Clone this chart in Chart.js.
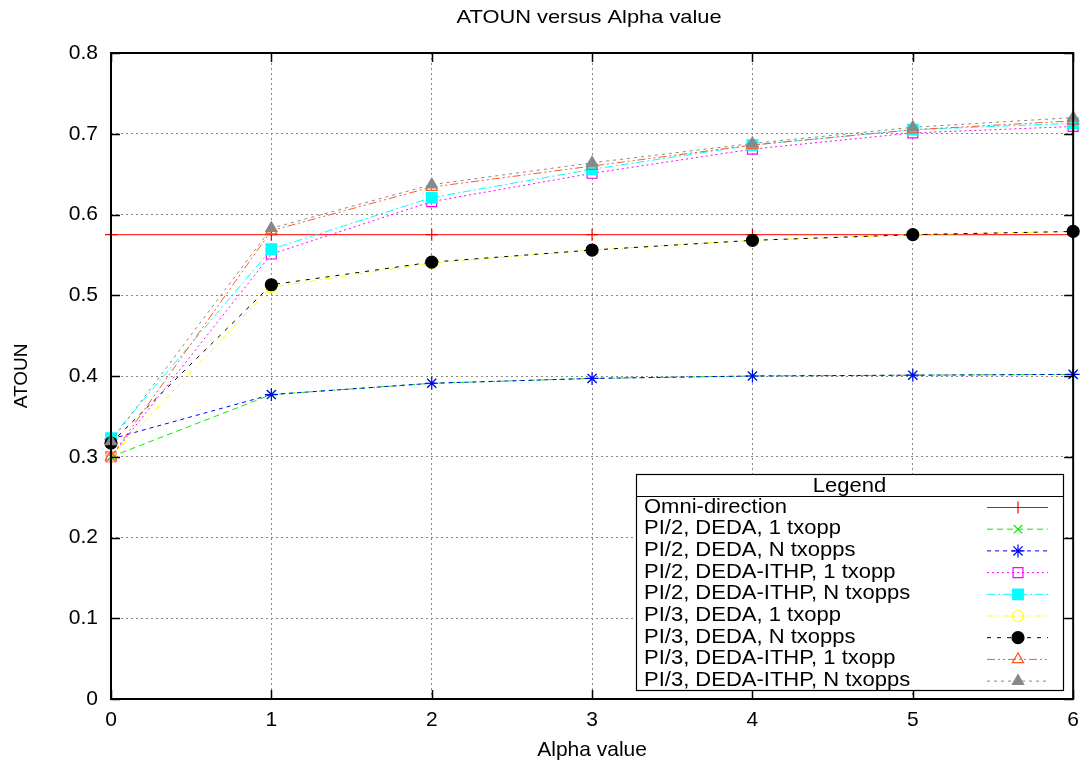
<!DOCTYPE html>
<html>
<head>
<meta charset="utf-8">
<title>ATOUN versus Alpha value</title>
<script src="https://cdn.jsdelivr.net/npm/chart.js@4.4.1/dist/chart.umd.min.js"></script>
<style>
  html, body { margin: 0; padding: 0; background: #fff; }
  #wrap { width: 1088px; height: 769px; }
</style>
</head>
<body>
<div id="wrap"><canvas id="atounChart" width="1088" height="769"></canvas></div>
<script>
// valores de alpha (eje x)
const alpha = [0, 1, 2, 3, 4, 5, 6];

// ATOUN por escenario
const omni      = [0.575, 0.575, 0.575, 0.575, 0.575, 0.575, 0.575];
const pi2Deda1  = [0.300, 0.377, 0.391, 0.397, 0.400, 0.401, 0.402];
const pi2DedaN  = [0.322, 0.377, 0.391, 0.397, 0.400, 0.401, 0.402];
const pi2Ithp1  = [0.300, 0.551, 0.616, 0.651, 0.681, 0.701, 0.709];
const pi2IthpN  = [0.323, 0.557, 0.621, 0.656, 0.686, 0.705, 0.713];
const pi3Deda1  = [0.300, 0.510, 0.540, 0.556, 0.568, 0.575, 0.579];
const pi3DedaN  = [0.317, 0.513, 0.541, 0.556, 0.568, 0.575, 0.579];
const pi3Ithp1  = [0.300, 0.580, 0.634, 0.660, 0.686, 0.705, 0.716];
const pi3IthpN  = [0.319, 0.583, 0.637, 0.664, 0.688, 0.708, 0.720];

const seriesNames = [
    'Omni-direction',
    'PI/2, DEDA, 1 txopp',
    'PI/2, DEDA, N txopps',
    'PI/2, DEDA-ITHP, 1 txopp',
    'PI/2, DEDA-ITHP, N txopps',
    'PI/3, DEDA, 1 txopp',
    'PI/3, DEDA, N txopps',
    'PI/3, DEDA-ITHP, 1 txopp',
    'PI/3, DEDA-ITHP, N txopps'
];
const seriesValues = [omni, pi2Deda1, pi2DedaN, pi2Ithp1, pi2IthpN, pi3Deda1, pi3DedaN, pi3Ithp1, pi3IthpN];

// ticks
const xTicks = [0, 1, 2, 3, 4, 5, 6];
const yTicks = [0, 0.1, 0.2, 0.3, 0.4, 0.5, 0.6, 0.7, 0.8];

// estilo de cada linea: color, trazo, marcador, tamaño, relleno
const styles = [
    { color: '#ff0000', dash: [],                 point: 'cross',    r: 6,   fill: false },
    { color: '#00ee00', dash: [6, 4],             point: 'crossRot', r: 6,   fill: false },
    { color: '#0000ff', dash: [4, 4],             point: 'star',     r: 6.5, fill: false },
    { color: '#ff00ff', dash: [2, 3],             point: 'rect',     r: 7,   fill: false },
    { color: '#00ffff', dash: [8, 3, 2, 3],       point: 'rect',     r: 7.5, fill: true  },
    { color: '#ffff00', dash: [6, 4, 2, 4],       point: 'circle',   r: 5.5, fill: false },
    { color: '#000000', dash: [4, 6],             point: 'circle',   r: 6,   fill: true  },
    { color: '#ff5a1e', dash: [8, 3, 2, 3, 2, 3], point: 'triangle', r: 6.5, fill: false },
    { color: '#888888', dash: [3, 4],             point: 'triangle', r: 6.5, fill: true  }
];

const FONT = "'Liberation Sans', Arial, sans-serif";

function makeDatasets() {
    return seriesValues.map(function (vals, i) {
        const s = styles[i];
        return {
            label: seriesNames[i],
            data: alpha.map((a, k) => ({ x: a, y: vals[k] })),
            borderColor: s.color,
            borderWidth: 1,
            borderDash: s.dash,
            pointStyle: s.point,
            pointRadius: s.r,
            pointHoverRadius: s.r,
            pointBorderColor: s.color,
            pointBorderWidth: 1.2,
            pointBackgroundColor: s.fill ? s.color : 'rgba(0,0,0,0)',
            tension: 0,
            clip: false,
            order: seriesValues.length - i // gnuplot pinta en orden, el ultimo encima
        };
    });
}

// dibuja un marcador de la leyenda en (x, y)
function marker(ctx, s, x, y) {
    const r = s.r;
    ctx.save();
    ctx.setLineDash([]);
    ctx.strokeStyle = s.color;
    ctx.fillStyle = s.color;
    ctx.lineWidth = 1.2;
    ctx.beginPath();
    if (s.point === 'cross' || s.point === 'star') {
        ctx.moveTo(x - r, y); ctx.lineTo(x + r, y);
        ctx.moveTo(x, y - r); ctx.lineTo(x, y + r);
    }
    if (s.point === 'crossRot' || s.point === 'star') {
        const d = r * 0.707;
        ctx.moveTo(x - d, y - d); ctx.lineTo(x + d, y + d);
        ctx.moveTo(x - d, y + d); ctx.lineTo(x + d, y - d);
    }
    if (s.point === 'rect') {
        const d = r * 0.707;
        ctx.rect(x - d, y - d, 2 * d, 2 * d);
    }
    if (s.point === 'circle') {
        ctx.arc(x, y, r, 0, Math.PI * 2);
    }
    if (s.point === 'triangle') {
        ctx.moveTo(x, y - r);
        ctx.lineTo(x + r * 0.87, y + r * 0.5);
        ctx.lineTo(x - r * 0.87, y + r * 0.5);
        ctx.closePath();
    }
    if (s.fill && (s.point === 'rect' || s.point === 'circle' || s.point === 'triangle')) ctx.fill();
    ctx.stroke();
    ctx.restore();
}

// texto algo ensanchado, como en la salida de gnuplot
function wideText(ctx, text, x, y, align, sx) {
    ctx.save();
    ctx.translate(x, y);
    ctx.scale(sx, 1);
    ctx.textAlign = align;
    ctx.fillText(text, 0, 0);
    ctx.restore();
}

// titulo del grafico
const titlePlugin = {
    id: 'gpTitle',
    afterDraw(chart) {
        const ctx = chart.ctx;
        const a = chart.chartArea;
        ctx.save();
        ctx.fillStyle = '#000';
        ctx.font = '19px ' + FONT;
        ctx.textBaseline = 'middle';
        wideText(ctx, 'ATOUN versus Alpha value', (a.left + a.right) / 2 - 3, 18, 'center', 1.15);
        ctx.restore();
    }
};

// leyenda con recuadro opaco, dentro del area
const legendBoxPlugin = {
    id: 'gpLegend',
    afterDatasetsDraw(chart) {
        const ctx = chart.ctx;
        const x0 = 636, y0 = 474, w = 427, h = 216, head = 22, rowH = 21.7;
        ctx.save();
        ctx.fillStyle = '#fff';
        ctx.fillRect(x0, y0, w, h);
        ctx.strokeStyle = '#000';
        ctx.lineWidth = 1.2;
        ctx.setLineDash([]);
        ctx.strokeRect(x0 + 0.5, y0 + 0.5, w, h);
        ctx.beginPath();
        ctx.moveTo(x0, y0 + head + 0.5);
        ctx.lineTo(x0 + w, y0 + head + 0.5);
        ctx.stroke();

        ctx.fillStyle = '#000';
        ctx.font = '20px ' + FONT;
        ctx.textBaseline = 'middle';
        wideText(ctx, 'Legend', x0 + w / 2, y0 + 12, 'center', 1.1);

        seriesNames.forEach(function (name, i) {
            const y = y0 + head + 11 + i * rowH;
            ctx.fillStyle = '#000';
            wideText(ctx, name, 644, y, 'left', 1.1);
            const s = styles[i];
            ctx.save();
            ctx.strokeStyle = s.color;
            ctx.lineWidth = 1;
            ctx.setLineDash(s.dash);
            ctx.beginPath();
            ctx.moveTo(987, y + 0.5);
            ctx.lineTo(1048, y + 0.5);
            ctx.stroke();
            ctx.restore();
            marker(ctx, s, 1018, y + 0.5);
        });
        ctx.restore();
    }
};

// marco y marcas de graduacion hacia dentro en los cuatro lados
const framePlugin = {
    id: 'gpFrame',
    afterDraw(chart) {
        const ctx = chart.ctx;
        const a = chart.chartArea;
        const xs = chart.scales.x, ys = chart.scales.y;
        const t = 9;
        ctx.save();
        ctx.strokeStyle = '#000';
        ctx.setLineDash([]);
        ctx.lineWidth = 1.5;
        ctx.beginPath();
        xTicks.forEach(function (v) {
            const px = Math.round(xs.getPixelForValue(v)) + 0.5;
            ctx.moveTo(px, a.bottom); ctx.lineTo(px, a.bottom - t);
            ctx.moveTo(px, a.top); ctx.lineTo(px, a.top + t);
        });
        yTicks.forEach(function (v) {
            const py = Math.round(ys.getPixelForValue(v)) + 0.5;
            ctx.moveTo(a.left, py); ctx.lineTo(a.left + t, py);
            ctx.moveTo(a.right, py); ctx.lineTo(a.right - t, py);
        });
        ctx.stroke();
        ctx.lineWidth = 2;
        ctx.strokeRect(a.left, a.top, a.right - a.left, a.bottom - a.top);
        ctx.restore();
    }
};

const gridOpts = { color: '#888', lineWidth: 1, drawTicks: false };
const dotted = { display: false, dash: [2, 3] };

document.addEventListener('DOMContentLoaded', function () {
    const ctx = document.getElementById('atounChart').getContext('2d');
    new Chart(ctx, {
        type: 'line',
        data: { datasets: makeDatasets() },
        options: {
            responsive: false,
            animation: false,
            events: [],
            layout: { padding: { top: 53, right: 12, left: 0, bottom: 0 } },
            plugins: {
                legend: { display: false },
                title: { display: false },
                tooltip: { enabled: false }
            },
            scales: {
                x: {
                    type: 'linear',
                    min: 0,
                    max: 6,
                    afterFit: function (s) { s.height = 70; },
                    afterBuildTicks: function (s) { s.ticks = xTicks.map(v => ({ value: v })); },
                    border: dotted,
                    grid: gridOpts,
                    ticks: {
                        padding: 9,
                        color: '#000',
                        font: { family: FONT, size: 21 },
                        callback: v => String(v)
                    },
                    title: {
                        display: true,
                        text: 'Alpha value',
                        color: '#000',
                        font: { family: FONT, size: 21 },
                        padding: { top: 0, bottom: 6 }
                    }
                },
                y: {
                    min: 0,
                    max: 0.8,
                    afterFit: function (s) { s.width = 111; },
                    afterBuildTicks: function (s) { s.ticks = yTicks.map(v => ({ value: v })); },
                    border: dotted,
                    grid: gridOpts,
                    ticks: {
                        padding: 13,
                        color: '#000',
                        font: { family: FONT, size: 21 },
                        callback: v => String(Number(v.toFixed(1)))
                    },
                    title: {
                        display: true,
                        text: 'ATOUN',
                        color: '#000',
                        font: { family: FONT, size: 19 },
                        padding: 10
                    }
                }
            }
        },
        plugins: [legendBoxPlugin, framePlugin, titlePlugin]
    });
});
</script>
</body>
</html>
